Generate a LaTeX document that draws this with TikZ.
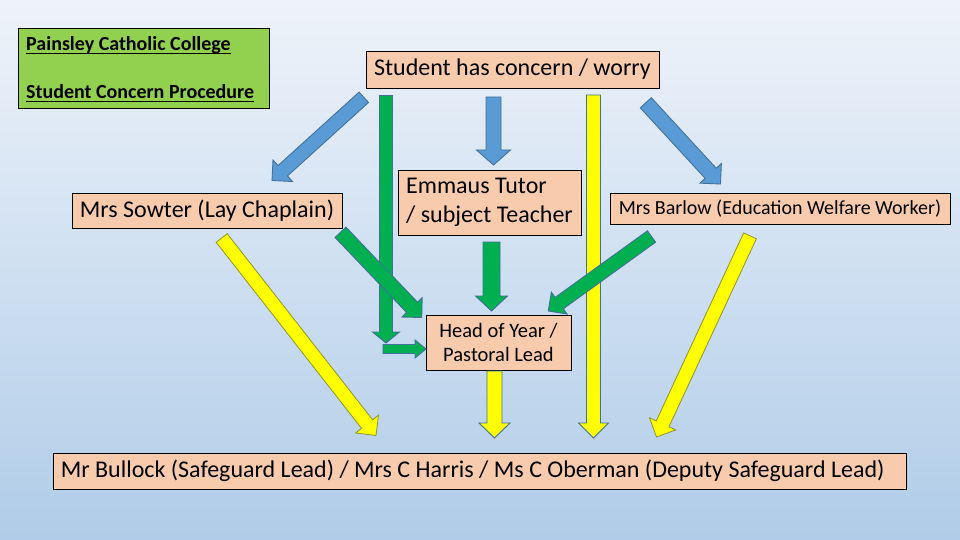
\documentclass[tikz,border=0pt]{standalone}
\usepackage{fontspec}
\setmainfont{Carlito}
\usetikzlibrary{calc}
\definecolor{bgtop}{RGB}{238,243,250}
\definecolor{bgbot}{RGB}{176,204,232}
\definecolor{peach}{RGB}{248,203,173}
\definecolor{titlegreen}{RGB}{146,208,80}
\definecolor{ablue}{RGB}{91,155,213}
\definecolor{aborder}{RGB}{65,113,156}
\definecolor{agreen}{RGB}{0,176,80}
\definecolor{ayellow}{RGB}{255,255,0}
\definecolor{yborder}{RGB}{140,150,50}
% #1 style, #2 start, #3 tip, #4 shaft half width, #5 head half width, #6 head length
\newcommand{\blkarrow}[6]{%
  \coordinate (hb) at ($(#3)!#6!(#2)$);
  \draw[#1] ($(#2)!#4!90:(#3)$) -- ($(hb)!#4!90:(#3)$) -- ($(hb)!#5!90:(#3)$) -- (#3)
    -- ($(hb)!#5!-90:(#3)$) -- ($(hb)!#4!-90:(#3)$) -- ($(#2)!#4!-90:(#3)$) -- cycle;}
\tikzset{
  box/.style={draw=black, line width=0.8pt, fill=peach, inner sep=0pt},
  bigtext/.style={font=\fontsize{24}{29}\selectfont},
  bluearrow/.style={fill=ablue, draw=aborder, line width=0.9pt},
  greenarrow/.style={fill=agreen, draw=aborder, line width=0.9pt},
  yellowarrow/.style={fill=ayellow, draw=yborder, line width=0.8pt},
  yellowvarrow/.style={fill=ayellow, draw=aborder, line width=0.9pt},
  titletext/.style={anchor=base west, inner sep=0pt, font=\bfseries\fontsize{20}{24}\selectfont},
  uline/.style={line width=1.1pt}
}
\begin{document}
\begin{tikzpicture}[x=1pt,y=-1pt]
\useasboundingbox (0,0) rectangle (960,540);
\shade[top color=bgtop, bottom color=bgbot] (0,0) rectangle (960,540);

% title
\node[draw=black, line width=0.8pt, fill=titlegreen, minimum width=251pt, minimum height=80pt, inner sep=0pt, anchor=north west] (title) at (18,28) {};
\node[titletext] (t1) at (26,50.5) {Painsley Catholic College};
\node[titletext] (t2) at (26,98.5) {Student Concern Procedure};
\draw[uline] ($(t1.base west)+(0,2.6)$) -- ($(t1.base east)+(0,2.6)$);
\draw[uline] ($(t2.base west)+(0,2.6)$) -- ($(t2.base east)+(0,2.6)$);

% boxes
\node[box, bigtext, minimum width=293pt, minimum height=37pt] (concern) at (512.5,69.5) {Student has concern / worry};
\node[box, bigtext, minimum width=270pt, minimum height=35pt] (sowter) at (207,210.5) {Mrs Sowter (Lay Chaplain)};
\node[box, bigtext, minimum width=183pt, minimum height=65pt, align=left] (emmaus) at (489.5,202.5) {Emmaus Tutor\\/ subject Teacher};
\node[box, font=\fontsize{20}{24}\selectfont, minimum width=340pt, minimum height=31pt] (barlow) at (780,208.5) {Mrs Barlow (Education Welfare Worker)};
\node[box, font=\fontsize{20.5}{24}\selectfont, minimum width=145pt, minimum height=55pt, align=center] (hoy) at (498.5,342.5) {Head of Year /\\Pastoral Lead};
\node[box, minimum width=853pt, minimum height=36pt] (lead) at (479.5,471) {};
\node[bigtext, anchor=west, inner sep=0pt] (leadtext) at ($(lead.west)+(8,0)$) {Mr Bullock (Safeguard Lead) / Mrs C Harris / Ms C Oberman (Deputy Safeguard Lead)};

% arrow end points
\coordinate (b1s) at (363.8,97.3);  \coordinate (b1e) at (272,180.5);
\coordinate (b2s) at (493.5,97);    \coordinate (b2e) at (493.5,165);
\coordinate (b3s) at (645.8,102.8); \coordinate (b3e) at (720.5,184);
\coordinate (g1s) at (386,95.5);    \coordinate (g1e) at (386,343);
\coordinate (g2s) at (383,349);     \coordinate (g2e) at (426,349);
\coordinate (g3s) at (340.5,232.3); \coordinate (g3e) at (421.7,317.5);
\coordinate (g4s) at (491.5,242);   \coordinate (g4e) at (491.5,311);
\coordinate (g5s) at (651.5,236.5); \coordinate (g5e) at (548.3,311);
\coordinate (y1s) at (221.7,238);   \coordinate (y1e) at (376,435.5);
\coordinate (y2s) at (494.5,371);   \coordinate (y2e) at (494.5,438);
\coordinate (y3s) at (593.5,95);    \coordinate (y3e) at (593.5,438);
\coordinate (y4s) at (750,235.8);   \coordinate (y4e) at (656.5,437);

% blue arrows
\blkarrow{bluearrow}{b1s}{b1e}{7pt}{14.5pt}{14.5pt}
\blkarrow{bluearrow}{b2s}{b2e}{7.5pt}{17pt}{15pt}
\blkarrow{bluearrow}{b3s}{b3e}{7.5pt}{14.5pt}{14.5pt}

% yellow arrows
\blkarrow{yellowarrow}{y1s}{y1e}{7pt}{14.5pt}{14.5pt}
\blkarrow{yellowvarrow}{y2s}{y2e}{7.5pt}{15.5pt}{15pt}
\blkarrow{yellowvarrow}{y3s}{y3e}{7pt}{15pt}{15pt}
\blkarrow{yellowarrow}{y4s}{y4e}{7pt}{14.5pt}{14.5pt}

% green arrows
\blkarrow{greenarrow}{g1s}{g1e}{6.5pt}{13.5pt}{11pt}
\blkarrow{greenarrow}{g2s}{g2e}{4.5pt}{9pt}{11pt}
\blkarrow{greenarrow}{g3s}{g3e}{7.5pt}{14pt}{14pt}
\blkarrow{greenarrow}{g4s}{g4e}{8.5pt}{16pt}{15pt}
\blkarrow{greenarrow}{g5s}{g5e}{7pt}{13.5pt}{13.5pt}
\end{tikzpicture}
\end{document}
